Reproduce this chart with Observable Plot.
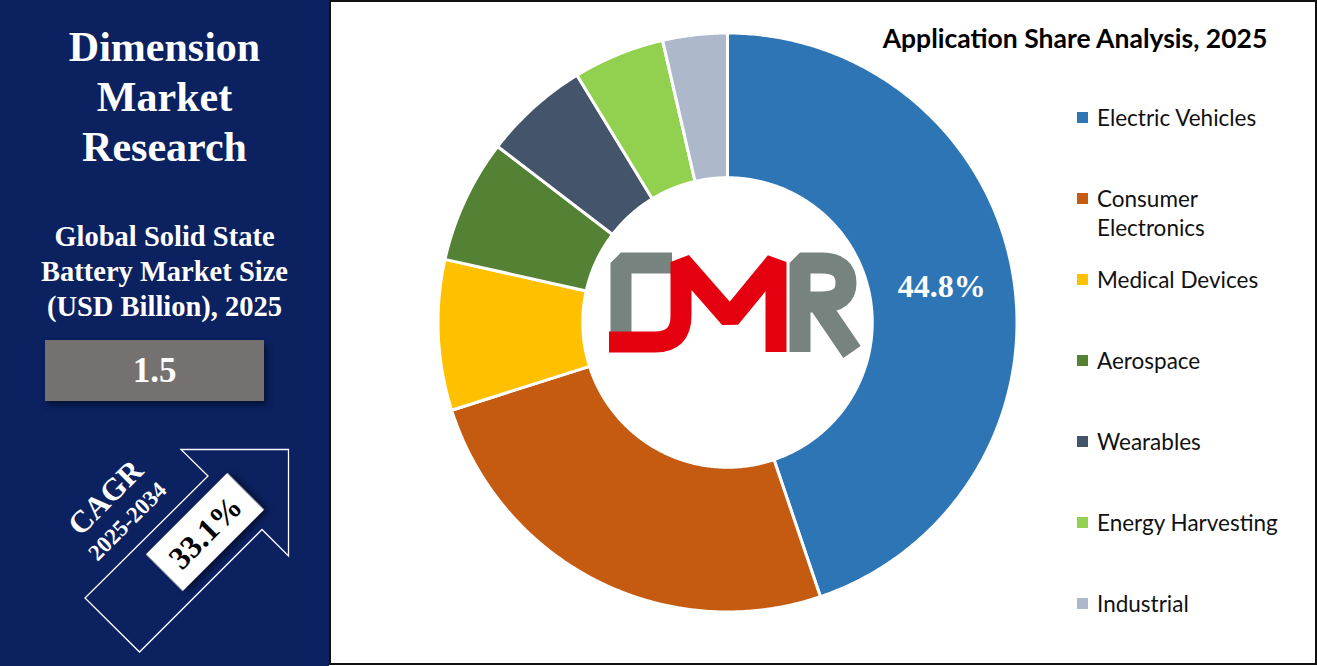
<!DOCTYPE html>
<html>
<head>
<meta charset="utf-8">
<script src="https://cdn.jsdelivr.net/npm/d3@7"></script>
<script src="https://cdn.jsdelivr.net/npm/@observablehq/plot@0.6"></script>
<style>
  html, body { margin: 0; padding: 0; background: #fff; }
  #page { position: relative; width: 1317px; height: 666px; overflow: hidden; background: #fff; }
  #left { position: absolute; left: 0; top: 0; width: 329px; height: 666px; background: #0B2160; }
  .serif { font-family: "Liberation Serif", "Times New Roman", serif; font-weight: bold; color: #fff; text-align: center; position: absolute; }
  #brand { left: 0; width: 329px; top: 22px; font-size: 42px; line-height: 50px; }
  #sub { left: 0; width: 329px; top: 219px; font-size: 28.5px; line-height: 35px; }
  #box { position: absolute; left: 45px; top: 340px; width: 219px; height: 61px; background: #767171; box-shadow: 3px 4px 6px rgba(0,0,0,0.45); color: #fff; font-family: "Liberation Serif", serif; font-weight: bold; font-size: 35px; line-height: 61px; text-align: center; }
  #frame { position: absolute; left: 329px; top: 0; width: 984px; height: 661px; border: 2px solid #111; }
  #chart { position: absolute; left: 331px; top: 2px; }
  #title { position: absolute; left: 855px; width: 440px; top: 22px; text-align: center; font-family: Lato, "Open Sans", sans-serif; font-weight: bold; font-size: 26.5px; color: #000; }
  #legend { position: absolute; left: 1077px; top: 0; font-family: Lato, "Open Sans", sans-serif; font-size: 22.5px; color: #111; }
  .item { position: absolute; left: 0; width: 240px; display: flex; align-items: flex-start; line-height: 29px; }
  .sw { width: 11px; height: 11px; margin-top: 9px; margin-right: 9px; flex: none; }
  #overlay { position: absolute; left: 0; top: 0; }
</style>
</head>
<body>
<div id="page">
  <div id="left">
    <div id="brand" class="serif">Dimension<br>Market<br>Research</div>
    <div id="sub" class="serif">Global Solid State<br>Battery Market Size<br>(USD Billion), 2025</div>
    <div id="box"></div>
  </div>
  <div id="frame"></div>
  <div id="chart"></div>
  <div id="title"></div>
  <div id="legend"></div>
</div>
<script>
// ---- data ----
const categories = ["Electric Vehicles", "Consumer Electronics", "Medical Devices", "Aerospace", "Wearables", "Energy Harvesting", "Industrial"];
const shares = [44.8, 25.3, 8.4, 6.9, 5.9, 5.1, 3.6];
const colors = ["#2E75B6", "#C55A11", "#FFC000", "#548235", "#44546A", "#92D050", "#ADB9CA"];
const labelledSlice = "Electric Vehicles";
const chartTitle = "Application Share Analysis, 2025";
const marketSize = "1.5";
const cagrValue = "33.1%";
const cagrLabel = "CAGR";
const cagrPeriod = "2025-2034";

// ---- layout ----
const W = 984, H = 661;
const R = 289.5;               // outer radius px
const innerRatio = 0.5;
const cx = 396, cy = 320;      // donut centre in svg px

const table = categories.map((name, i) => ({name, value: shares[i]}));
const arcs = d3.pie().sort(null).value(d => d.value)(table);

const pts = [];
const step = Math.PI / 360;
for (const a of arcs) {
  const n = Math.max(2, Math.ceil((a.endAngle - a.startAngle) / step));
  for (let k = 0; k <= n; k++) {
    const t = a.startAngle + (a.endAngle - a.startAngle) * k / n;
    pts.push({name: a.data.name, x: Math.sin(t), y: Math.cos(t)});
  }
  for (let k = n; k >= 0; k--) {
    const t = a.startAngle + (a.endAngle - a.startAngle) * k / n;
    pts.push({name: a.data.name, x: innerRatio * Math.sin(t), y: innerRatio * Math.cos(t)});
  }
}
const labels = arcs.filter(a => a.data.name === labelledSlice).map(a => {
  const m = (a.startAngle + a.endAngle) / 2, r = (1 + innerRatio) / 2;
  return {x: r * Math.sin(m), y: r * Math.cos(m), text: a.data.value.toFixed(1) + "%"};
});

const chart = Plot.plot({
  width: W, height: H,
  margin: 0,
  x: {domain: [-cx / R, (W - cx) / R], axis: null},
  y: {domain: [-(H - cy) / R, cy / R], axis: null},
  color: {domain: categories, range: colors},
  marks: [
    Plot.line(pts, {x: "x", y: "y", z: "name", fill: "name", stroke: "white", strokeWidth: 3, curve: "linear-closed"}),
    Plot.text(labels, {x: "x", y: "y", text: "text", fill: "white", fontSize: 32, fontWeight: "bold", fontFamily: "Liberation Serif, serif"})
  ]
});
chart.style.background = "transparent";
document.getElementById("chart").appendChild(chart);

document.getElementById("title").textContent = chartTitle;
document.getElementById("box").textContent = marketSize;

// legend
const legendTops = [103, 184, 265, 346, 427, 508, 589];
const legend = document.getElementById("legend");
categories.forEach((c, i) => {
  const it = document.createElement("div");
  it.className = "item";
  it.style.top = legendTops[i] + "px";
  const sw = document.createElement("div");
  sw.className = "sw"; sw.style.background = colors[i];
  const tx = document.createElement("div");
  tx.textContent = c;
  if (c === "Consumer Electronics") { tx.style.width = "130px"; }
  it.appendChild(sw); it.appendChild(tx);
  legend.appendChild(it);
});

// overlay: CAGR arrow and DMR logo
const ov = d3.select("#page").append("svg").attr("id", "overlay").attr("width", 1317).attr("height", 666);
ov.append("polygon")
  .attr("points", "181,449.5 288.5,449.5 288.5,556 262,529.5 139.5,652 85,598 208,476")
  .attr("fill", "none").attr("stroke", "#fff").attr("stroke-width", 1.3);
const g = ov.append("g").attr("transform", "translate(205,532) rotate(-45)");
g.append("rect").attr("x", -57.5).attr("y", -26).attr("width", 115).attr("height", 52).attr("fill", "#fff")
  .style("filter", "drop-shadow(3px 4px 3px rgba(0,0,0,0.5))");
g.append("text").attr("text-anchor", "middle").attr("dy", "0.35em").attr("font-family", "Liberation Serif, serif")
  .attr("font-weight", "bold").attr("font-size", 32).attr("fill", "#000").text(cagrValue);
ov.append("text").attr("transform", "translate(105,497) rotate(-45)").attr("text-anchor", "middle").attr("dy", "0.35em")
  .attr("font-family", "Liberation Serif, serif").attr("font-weight", "bold").attr("font-size", 31).attr("fill", "#fff").text(cagrLabel);
ov.append("text").attr("transform", "translate(127,521) rotate(-45)").attr("text-anchor", "middle").attr("dy", "0.35em")
  .attr("font-family", "Liberation Serif, serif").attr("font-weight", "bold").attr("font-size", 23).attr("fill", "#fff").text(cagrPeriod);

// DMR logo (decorative)
const grey = "#76837F", red = "#E5000F";
const logo = ov.append("g").attr("fill", "none").attr("stroke-linejoin", "bevel");
logo.append("path").attr("d", "M621,343 V263 H672").attr("stroke", grey).attr("stroke-width", 21);
logo.append("path").attr("d", "M609,342 H655 Q681,342 681,316 V262 L730,318 L776,262 V352").attr("stroke", red).attr("stroke-width", 21);
logo.append("path").attr("d", "M800,352 V263 H822 Q846,263 846,283 Q846,302 822,302 H808 M818,302 L852,352").attr("stroke", grey).attr("stroke-width", 21);
</script>
</body>
</html>
